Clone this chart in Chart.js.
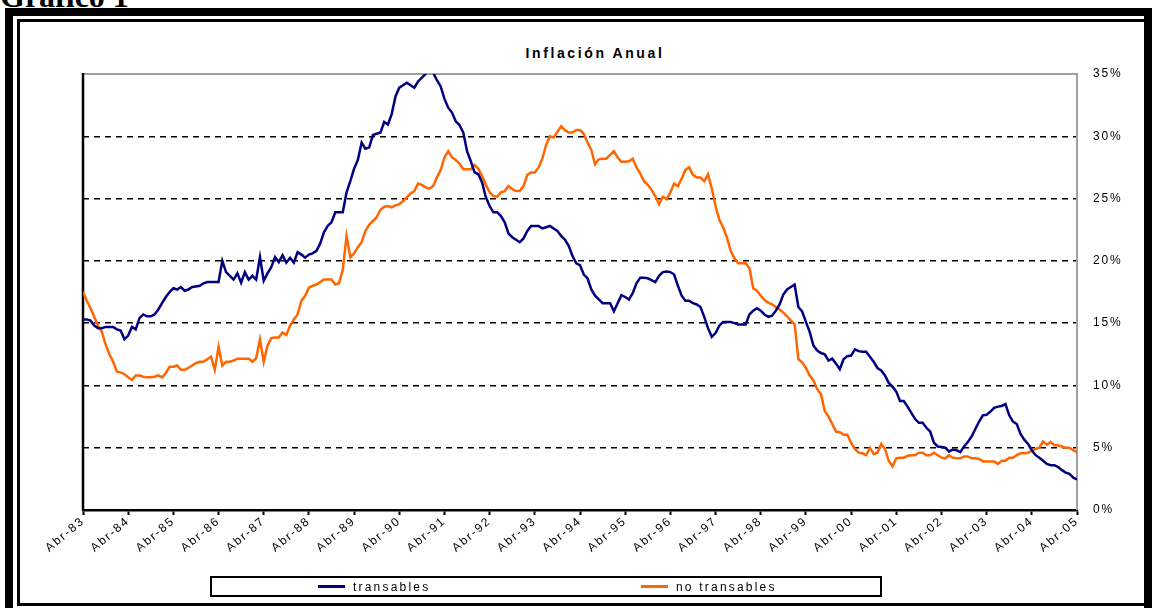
<!DOCTYPE html>
<html><head><meta charset="utf-8">
<script src="https://cdn.jsdelivr.net/npm/chart.js@4.4.1/dist/chart.umd.min.js"></script>
<style>
html,body{margin:0;padding:0;background:#fff;}
body{width:1161px;height:608px;overflow:hidden;position:relative;font-family:"Liberation Sans",Arial,sans-serif;}
#gtitle{position:absolute;left:0px;top:-22px;font:bold 32px "Liberation Serif","Times New Roman",serif;color:#000;white-space:nowrap;}
#outer{position:absolute;left:5px;top:8px;width:1147px;height:600px;border:8px solid #000;border-bottom:none;box-sizing:border-box;}
#inner{position:absolute;left:17px;top:19px;width:1131px;height:587px;border:3px solid #000;box-sizing:border-box;}
#title{position:absolute;left:0;width:1190px;top:45px;text-align:center;font:bold 14px "Liberation Sans",Arial,sans-serif;color:#000;letter-spacing:2.6px;}
#legend{position:absolute;left:210px;top:576px;width:672px;height:21px;border:2px solid #000;box-sizing:border-box;font:12px "Liberation Sans",Arial,sans-serif;letter-spacing:2.2px;color:#000;}
.li{position:absolute;top:2px;white-space:nowrap;}
.sw{display:inline-block;width:27px;height:3px;vertical-align:middle;margin-right:8px;position:relative;top:-1px;}
canvas{position:absolute;left:0;top:0;}
</style></head>
<body>
<div id="gtitle">Gráfico 1</div>
<div id="outer"></div>
<div id="inner"></div>
<div id="title">Inflación Anual</div>
<canvas id="c" width="1161" height="608"></canvas>
<div id="legend">
  <div class="li" style="left:106px"><span class="sw" style="background:#000080"></span>transables</div>
  <div class="li" style="left:429px"><span class="sw" style="background:#FF6600"></span>no transables</div>
</div>
<script>
// Monthly data, Apr-1983 .. Apr-2005 (annual inflation, %)
const yearLabels = ['Abr-83','Abr-84','Abr-85','Abr-86','Abr-87','Abr-88','Abr-89','Abr-90','Abr-91','Abr-92','Abr-93','Abr-94','Abr-95','Abr-96','Abr-97','Abr-98','Abr-99','Abr-00','Abr-01','Abr-02','Abr-03','Abr-04','Abr-05'];
const seriesNames = ['transables','no transables'];
const transables = [
15.3,15.3,15.2,14.8,14.6,14.6,14.7,14.7,14.7,14.5,14.4,13.7,
14.0,14.7,14.5,15.4,15.7,15.55,15.55,15.7,16.1,16.6,17.1,17.5,
17.8,17.7,17.9,17.6,17.7,17.9,17.95,18.0,18.2,18.3,18.3,18.3,
18.3,20.0,19.1,18.8,18.5,19.0,18.25,19.1,18.5,18.8,18.5,20.3,
18.4,19.0,19.5,20.3,19.9,20.45,19.85,20.25,19.85,20.7,20.5,20.25,
20.5,20.6,20.8,21.4,22.3,22.8,23.1,23.9,23.9,23.9,25.5,26.4,
27.4,28.1,29.5,29.0,29.1,30.1,30.2,30.3,31.15,30.95,31.8,33.2,
33.9,34.1,34.3,34.1,33.9,34.4,34.7,35.0,35.4,35.1,34.5,34.0,
33.0,32.3,31.9,31.2,30.9,30.3,28.8,28.0,27.1,26.95,26.3,25.1,
24.4,23.9,23.9,23.6,23.1,22.2,21.9,21.7,21.5,21.8,22.4,22.8,
22.8,22.8,22.6,22.7,22.8,22.6,22.4,22.0,21.7,21.2,20.4,19.8,
19.65,18.9,18.6,17.7,17.2,16.9,16.6,16.6,16.6,15.95,16.6,17.25,
17.1,16.9,17.4,18.2,18.65,18.65,18.6,18.45,18.3,18.8,19.1,19.15,
19.1,18.9,18.0,17.2,16.8,16.8,16.6,16.5,16.3,15.5,14.6,13.9,
14.2,14.8,15.1,15.1,15.1,15.0,14.9,14.9,14.9,15.7,16.0,16.2,
16.0,15.7,15.5,15.6,16.0,16.5,17.3,17.7,17.9,18.1,16.3,15.95,
15.1,14.3,13.2,12.8,12.6,12.5,12.0,12.15,11.75,11.3,12.1,12.35,
12.4,12.9,12.75,12.7,12.7,12.3,11.9,11.4,11.2,10.8,10.2,9.9,
9.5,8.75,8.75,8.3,7.8,7.3,7.0,7.0,6.6,6.3,5.4,5.1,
5.05,5.0,4.7,4.85,4.8,4.65,5.1,5.45,5.9,6.5,7.1,7.6,
7.65,7.9,8.2,8.3,8.35,8.5,7.6,7.1,6.9,6.1,5.65,5.3,
4.8,4.4,4.2,3.95,3.7,3.6,3.6,3.45,3.2,3.0,2.9,2.6,
2.45];
const noTransables = [
17.5,16.8,16.2,15.5,14.8,14.3,13.3,12.5,11.9,11.1,11.05,10.9,
10.65,10.45,10.8,10.8,10.7,10.65,10.65,10.7,10.8,10.65,11.0,11.5,
11.5,11.6,11.25,11.25,11.4,11.6,11.8,11.9,11.9,12.1,12.3,11.25,
13.1,11.6,11.9,11.9,12.0,12.15,12.15,12.15,12.15,11.9,12.2,13.7,
11.9,13.2,13.8,13.85,13.85,14.25,14.05,14.8,15.3,15.7,16.8,17.2,
17.85,18.0,18.1,18.3,18.5,18.5,18.5,18.1,18.2,19.3,22.0,20.3,
20.6,21.1,21.5,22.4,22.9,23.2,23.5,24.1,24.35,24.4,24.3,24.45,
24.55,24.8,25.1,25.4,25.6,26.2,26.1,25.9,25.8,26.0,26.7,27.3,
28.3,28.8,28.3,28.1,27.8,27.35,27.35,27.35,27.7,27.4,26.8,26.1,
25.5,25.2,25.15,25.5,25.6,26.0,25.75,25.6,25.6,26.0,26.9,27.1,
27.1,27.5,28.2,29.3,30.0,29.9,30.35,30.8,30.5,30.3,30.3,30.5,
30.5,30.2,29.5,28.9,27.75,28.15,28.2,28.2,28.5,28.8,28.3,27.95,
27.95,28.0,28.2,27.5,27.0,26.4,26.1,25.7,25.2,24.55,25.15,24.95,
25.5,26.2,26.0,26.6,27.3,27.5,26.9,26.7,26.7,26.4,26.95,25.8,
24.4,23.3,22.7,21.9,20.8,20.2,19.8,19.8,19.8,19.4,17.8,17.6,
17.2,16.85,16.65,16.5,16.3,16.1,15.85,15.55,15.2,14.9,12.1,11.85,
11.4,10.8,10.4,9.7,9.3,7.95,7.5,6.9,6.3,6.25,6.05,6.05,
5.4,4.9,4.6,4.55,4.4,5.0,4.5,4.6,5.3,4.9,3.95,3.5,
4.15,4.2,4.2,4.35,4.4,4.4,4.6,4.6,4.4,4.4,4.6,4.4,
4.2,4.15,4.4,4.2,4.15,4.15,4.3,4.3,4.15,4.15,4.1,3.9,
3.9,3.9,3.9,3.7,3.95,3.95,4.2,4.2,4.4,4.55,4.55,4.6,
4.75,4.9,5.0,5.5,5.25,5.45,5.2,5.2,5.1,5.0,5.0,4.8,
4.65];
const yTicks = [0,5,10,15,20,25,30,35];

const toPts = arr => arr.map((v, i) => ({x: i, y: v}));

const frame = {
  id: 'frame',
  beforeDatasetsDraw(chart) {
    const {ctx, chartArea: a} = chart;
    ctx.save();
    ctx.lineWidth = 2;
    ctx.strokeStyle = '#a0a0a0';
    ctx.beginPath();
    ctx.moveTo(a.left, a.top); ctx.lineTo(a.right, a.top); ctx.lineTo(a.right, a.bottom);
    ctx.stroke();
    ctx.strokeStyle = '#000';
    ctx.lineWidth = 2.5;
    ctx.beginPath();
    ctx.moveTo(a.left, a.top - 1); ctx.lineTo(a.left, a.bottom);
    ctx.stroke();
    ctx.restore();
  },
  beforeDraw(chart) { chart.ctx.letterSpacing = '1.8px'; }
};

new Chart(document.getElementById('c'), {
  type: 'line',
  data: {
    datasets: [
      {label: seriesNames[0], data: toPts(transables), borderColor: '#000080', borderWidth: 2.5, pointRadius: 0, tension: 0},
      {label: seriesNames[1], data: toPts(noTransables), borderColor: '#FF6600', borderWidth: 2.5, pointRadius: 0, tension: 0}
    ]
  },
  options: {
    responsive: false,
    animation: false,
    events: [],
    layout: {padding: {left: 83, top: 74, right: 24, bottom: 0}},
    plugins: {legend: {display: false}, title: {display: false}, tooltip: {enabled: false}},
    scales: {
      x: {
        type: 'linear', min: 0, max: 264,
        afterBuildTicks(s) { s.ticks = yearLabels.map((_, i) => ({value: i * 12})); },
        afterFit(s) { s.height = 98; },
        ticks: {autoSkip: false, minRotation: 40, maxRotation: 40, padding: -1, color: '#000',
          font: {family: '"Liberation Sans", Arial, sans-serif', size: 12},
          callback: v => yearLabels[Math.round(v / 12)]},
        grid: {drawOnChartArea: false, drawTicks: true, tickLength: 5, tickWidth: 2, tickColor: '#000'},
        border: {display: true, color: '#000', width: 2.5}
      },
      y: {
        position: 'right', min: 0, max: 35,
        afterBuildTicks(s) { s.ticks = yTicks.map(v => ({value: v})); },
        afterFit(s) { s.width = 60; },
        ticks: {padding: 16, color: '#000', font: {family: '"Liberation Sans", Arial, sans-serif', size: 12},
          callback: v => v + '%'},
        grid: {drawTicks: false, lineWidth: 1.5,
          color: c => (c.tick && (c.tick.value === 0 || c.tick.value === 35)) ? 'rgba(0,0,0,0)' : '#000'},
        border: {display: false, dash: [6, 5]}
      }
    }
  },
  plugins: [frame]
});
</script>
</body></html>
